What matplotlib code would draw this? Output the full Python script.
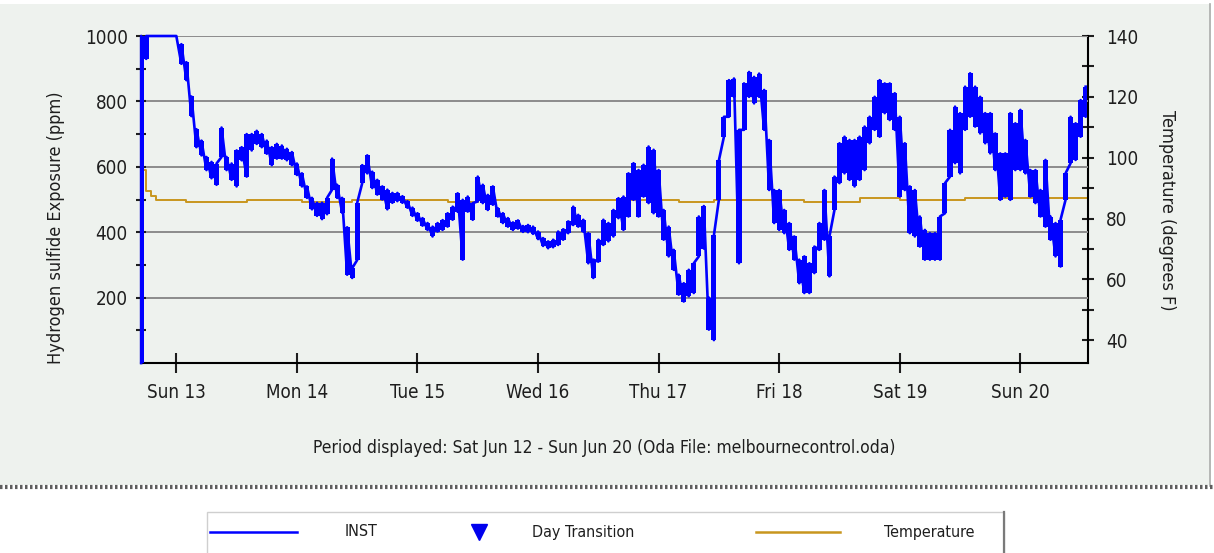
import numpy as np
import pandas as pd
import matplotlib
matplotlib.use("Agg")
import matplotlib.pyplot as plt
import matplotlib.dates as mdates
from matplotlib.lines import Line2D
from matplotlib.patches import Rectangle

plt.rcParams["font.family"] = ["DejaVu Sans"]
plt.rcParams["font.stretch"] = "condensed"

# hourly H2S readings (ppm), lower and upper edge of the spread in each hour,
# starting Sat Jun 12 17:00
inst_lo = [
    0, 930, 1000, 1000, 1000, 1000, 1000, 1000, 915, 865, 755, 660, 635, 590, 565, 545,
    630, 590, 560, 540, 620, 570, 650, 670, 660, 640, 605, 625, 625, 620, 605, 575,
    540, 505, 470, 450, 440, 455, 530, 505, 460, 270, 260, 315, 550, 580, 535, 515,
    500, 470, 490, 495, 490, 475, 450, 435, 420, 407, 387, 402, 407, 417, 438, 463,
    316, 463, 438, 494, 489, 468, 484, 448, 428, 417, 407, 411, 401, 400, 395, 379,
    358, 351, 354, 361, 377, 397, 422, 417, 402, 305, 260, 310, 361, 372, 387, 443,
    407, 448, 499, 448, 509, 489, 458, 448, 377, 326, 285, 209, 188, 204, 214, 326,
    350, 102, 70, 500, 692, 753, 814, 305, 713, 814, 794, 814, 713, 529, 428, 407,
    397, 346, 316, 244, 214, 214, 275, 346, 377, 265, 468, 550, 580, 560, 540, 560,
    590, 672, 713, 692, 764, 743, 713, 509, 529, 397, 387, 356, 316, 316, 316, 316,
    458, 570, 611, 580, 713, 753, 723, 702, 672, 641, 590, 499, 509, 499, 590, 590,
    580, 509, 489, 448, 417, 377, 326, 295, 499, 611, 621, 692, 753,
]
inst_hi = [
    1000, 1000, 1000, 1000, 1000, 1000, 1000, 1000, 975, 920, 815, 715, 680, 630, 615, 610,
    720, 630, 610, 650, 660, 700, 700, 710, 700, 680, 660, 670, 665, 655, 645, 610,
    580, 540, 505, 490, 490, 505, 625, 545, 505, 415, 290, 490, 605, 635, 585, 560,
    540, 530, 520, 520, 510, 495, 475, 458, 443, 428, 417, 428, 437, 458, 478, 519,
    499, 509, 489, 570, 545, 514, 540, 473, 458, 443, 430, 436, 419, 422, 417, 402,
    382, 372, 377, 402, 409, 433, 478, 453, 438, 397, 316, 377, 438, 428, 468, 504,
    509, 580, 611, 590, 606, 662, 652, 590, 468, 417, 346, 270, 244, 285, 305, 448,
    480, 200, 390, 620, 753, 865, 870, 713, 855, 890, 875, 885, 835, 682, 529, 529,
    468, 428, 387, 316, 326, 305, 356, 428, 529, 387, 570, 672, 692, 682, 682, 692,
    723, 753, 814, 865, 855, 855, 825, 753, 672, 540, 529, 448, 407, 397, 397, 448,
    550, 713, 784, 764, 845, 886, 845, 814, 764, 764, 702, 641, 641, 764, 733, 774,
    682, 590, 590, 529, 621, 448, 428, 438, 580, 753, 733, 804, 845,
]

# temperature (degrees F): hour index where the reading changes, and new value
temp_change_hour = [0, 1, 2, 3, 9, 21, 32, 42, 61, 67, 107, 114, 132, 143, 151, 164]
temp_change_value = [96.0, 89.0, 87.3, 86.2, 85.4, 86.2, 85.4, 86.2, 85.4, 86.2,
                     85.4, 86.2, 85.4, 86.6, 86.2, 86.8]

start = pd.Timestamp("2021-06-12 17:00")
times = pd.date_range(start, periods=len(inst_lo), freq="h")

# zig-zag between the low and high edge of each hour
inst_x = np.repeat(times.values, 2)
inst_y = np.column_stack([inst_lo, inst_hi]).ravel()

temp_x = list(times[temp_change_hour]) + [times[-1]]
temp_y = temp_change_value + [temp_change_value[-1]]

W, H = 1214, 553
fx = lambda px: px / W
fy = lambda py: 1 - py / H

fig = plt.figure(figsize=(W / 100, H / 100), dpi=100, facecolor="white")

# panel background with the hatched lower border
fig.add_artist(Rectangle((0, fy(485)), fx(1209), fy(4) - fy(485),
                         transform=fig.transFigure, facecolor="#eef2ee",
                         edgecolor="none", zorder=0))
fig.add_artist(Line2D([fx(1210), fx(1210)], [fy(4), fy(486)],
                      transform=fig.transFigure, color="#a8aaa8", lw=1.2))
fig.add_artist(Line2D([0, 1], [fy(487), fy(487)], transform=fig.transFigure,
                      color="#5e5e5e", lw=3, dashes=(0.6, 0.6)))

ax = fig.add_axes([fx(141), fy(363), fx(1088) - fx(141), fy(36) - fy(363)])
ax2 = ax.twinx()
ax.set_zorder(ax2.get_zorder() + 1)
ax.patch.set_visible(False)

blue = "#0000ff"
ax.fill_between(times, inst_lo, inst_hi, step="mid", color=blue, lw=0,
                clip_on=False, zorder=3)
ax.plot(inst_x, inst_y, color=blue, lw=1.9, clip_on=False, zorder=3)
ax2.plot(temp_x, temp_y, color="#c8961e", lw=1.4, drawstyle="steps-post")

ax.set_xlim(pd.Timestamp("2021-06-12 16:58"), pd.Timestamp("2021-06-20 13:28"))
ax.set_ylim(0, 1000)
ax2.set_ylim(32.5, 140)

ax.yaxis.grid(True, color="#8c8c8c", lw=1.4)
ax.set_axisbelow(True)

ax.set_yticks([200, 400, 600, 800, 1000])
ax.set_yticks([100, 300, 500, 700, 900], minor=True)
ax2.set_yticks([40, 60, 80, 100, 120, 140])
ax2.set_yticks([50, 70, 90, 110, 130], minor=True)

ax.xaxis.set_major_locator(mdates.DayLocator())
ax.xaxis.set_major_formatter(mdates.DateFormatter("%a %d"))

tick_color = "#1e1e1e"
ax.tick_params(axis="y", which="both", direction="inout", length=6.5, width=1.5,
               pad=6.2, labelsize=13.5, colors=tick_color)
ax.tick_params(axis="x", direction="inout", length=14.4, width=1.5, pad=7.5,
               labelsize=13.5, colors=tick_color)
ax2.tick_params(axis="y", which="both", direction="inout", length=8.6, width=1.5,
                pad=8.7, labelsize=13.5, colors=tick_color)

for side in ["top", "right"]:
    ax.spines[side].set_visible(False)
for side in ["top", "left", "bottom"]:
    ax2.spines[side].set_visible(False)
ax.spines["left"].set_linewidth(1.5)
ax.spines["bottom"].set_linewidth(1.5)
ax2.spines["right"].set_linewidth(1.5)

ax.set_ylabel("Hydrogen sulfide Exposure (ppm)", fontsize=13, color=tick_color)
ax.yaxis.label.set_va("center")
ax.yaxis.set_label_coords((56 - 141) / 947, 0.413)
ax2.set_ylabel("Temperature (degrees F)", fontsize=13, rotation=270,
               color=tick_color)
ax2.yaxis.label.set_va("center")
ax2.yaxis.set_label_coords((1167 - 141) / 947, 0.468)

fig.text(fx(604), fy(448), "Period displayed: Sat Jun 12 - Sun Jun 20 "
         "(Oda File: melbournecontrol.oda)", ha="center", va="center",
         fontsize=12.5, color=tick_color)

# legend strip
fig.add_artist(Rectangle((fx(207), fy(560)), fx(1004) - fx(207), fy(512) - fy(560),
                         transform=fig.transFigure, facecolor="white",
                         edgecolor="#cfcfcf", lw=1))
fig.add_artist(Line2D([fx(1004), fx(1004)], [fy(512), 0], transform=fig.transFigure,
                      color="#7a7a7a", lw=1.6))
fig.add_artist(Line2D([fx(210), fx(297)], [fy(532), fy(532)],
                      transform=fig.transFigure, color=blue, lw=1.8))
fig.add_artist(Line2D([fx(479)], [fy(532)], transform=fig.transFigure,
                      marker="v", ms=12, color="#0000ee", lw=0))
fig.add_artist(Line2D([fx(756), fx(840)], [fy(532), fy(532)],
                      transform=fig.transFigure, color="#c8961e", lw=1.8))
for px, label in [(361, "INST"), (583, "Day Transition"), (929, "Temperature")]:
    fig.text(fx(px), fy(532), label, ha="center", va="center", fontsize=11.5,
             color=tick_color)

fig.savefig("out.png", dpi=100, facecolor=fig.get_facecolor())
